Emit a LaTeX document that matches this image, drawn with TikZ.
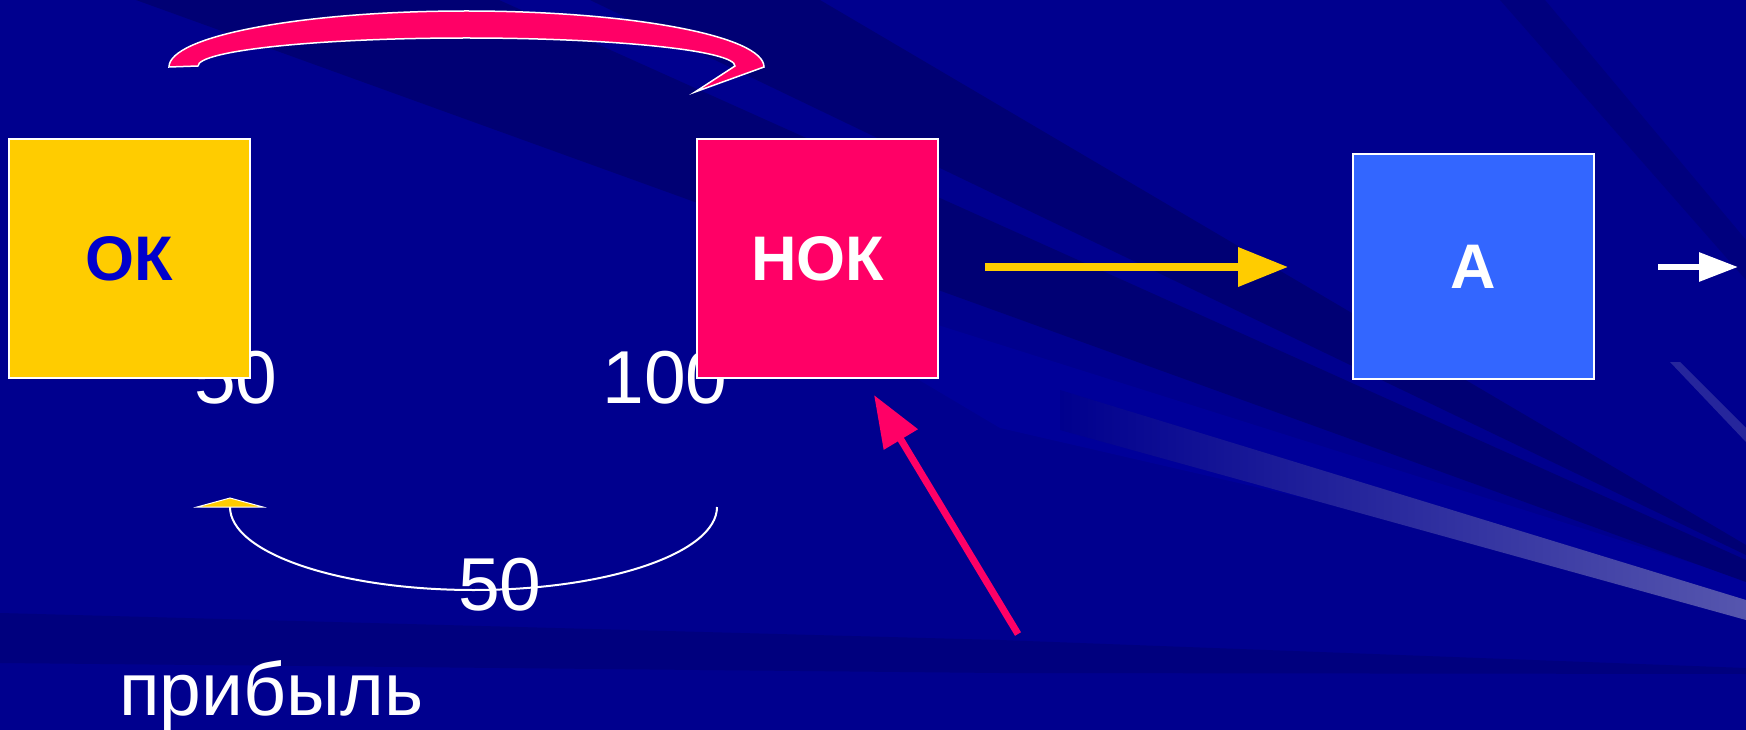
\documentclass[tikz,border=0pt]{standalone}
\usepackage{fontspec}
\setmainfont{Liberation Sans}
\usetikzlibrary{arrows.meta}
\definecolor{bgblue}{HTML}{00008E}
\definecolor{darkband}{HTML}{000074}
\definecolor{midband}{HTML}{00007E}
\definecolor{okyellow}{HTML}{FFCC00}
\definecolor{nokpink}{HTML}{FF0066}
\definecolor{ablue}{HTML}{3366FF}
\definecolor{oktext}{HTML}{0000CC}
\definecolor{streaklight}{HTML}{5656AE}
\definecolor{lightband}{HTML}{000099}
\tikzset{
  box/.style={draw=white, line width=2pt, minimum width=241pt, inner sep=0pt,
    font=\fontsize{63}{66}\selectfont\bfseries},
  num/.style={text=white, inner sep=0pt, font=\fontsize{75}{80}\selectfont, anchor=base},
  bigarrow/.style={line width=7pt, -{Triangle[length=50pt,width=38pt]}},
  band/.style={fill=darkband},
}
\begin{document}
\begin{tikzpicture}[x=1pt,y=-1pt]
% background
\fill[bgblue] (0,0) rectangle (1746,730);
\useasboundingbox (0,0) rectangle (1746,730);
\fill[lightband] (700,250) -- (1746,580) -- (1746,600) -- (1000,428) -- cycle;
\fill[band] (136,0) -- (499,0) -- (1746,560) -- (1746,582) -- cycle;
\fill[band] (590,0) -- (820,0) -- (1746,545) -- (1746,555) -- cycle;
\fill[midband] (1500,0) -- (1545,0) -- (1746,240) -- (1746,280) -- cycle;
\fill[midband] (0,613) -- (1000,640) -- (1746,668) -- (1746,674) -- (1000,673) -- (0,663) -- cycle;
\shade[left color=bgblue, right color=streaklight]
  (1060,390) -- (1746,600) -- (1746,620) -- (1060,430) -- cycle;
\fill[streaklight, opacity=0.45] (1670,362) -- (1680,362) -- (1746,428) -- (1746,442) -- cycle;

% numbers (behind boxes)
\node[num] (n50a) at (236,403) {50};
\node[num] (n100) at (665,403) {100};
\node[num] (n50b) at (500,610) {50};
\node[num, anchor=base west] (profit) at (119,715) {прибыль};

% boxes
\node[box, fill=okyellow, text=oktext, minimum height=239pt] (OK) at (129.5,258.5) {ОК};
\node[box, fill=nokpink, text=white, minimum height=239pt] (NOK) at (817.5,258.5) {НОК};
\node[box, fill=ablue, text=white, minimum height=225pt] (A) at (1473.5,266.5) {А};

% straight arrows
\coordinate (y1) at (985,267);
\coordinate (y2) at (1288,267);
\draw[bigarrow, okyellow] (y1) -- (y2);
\coordinate (p1) at (1018,634);
\coordinate (p2) at (874,395);
\draw[line width=7pt, nokpink, -{Triangle[length=52pt,width=38pt]}] (p1) -- (p2);
\coordinate (w1) at (1658,267);
\coordinate (w2) at (1738,267);
\draw[line width=6pt, white, -{Triangle[length=39pt,width=28pt]}] (w1) -- (w2);

% top curved block arrow
\coordinate (ta) at (169,67);
\filldraw[fill=nokpink, draw=white, line width=1.5pt, line join=miter]
  (ta) arc[start angle=180, end angle=360, x radius=297.5, y radius=56]
  -- (695,92) -- (735,66)
  arc[start angle=0, end angle=-180, x radius=268.5, y radius=28]
  -- cycle;

% bottom curved thin arrow
\coordinate (b1) at (717,507);
\draw[white, line width=2pt] (b1) arc[start angle=0, end angle=180, x radius=243.5, y radius=83];
\coordinate (bt) at (230,498);
\filldraw[fill=okyellow, draw=white, line width=1pt] (bt) -- (263,507) -- (197,507) -- cycle;
\end{tikzpicture}
\end{document}
